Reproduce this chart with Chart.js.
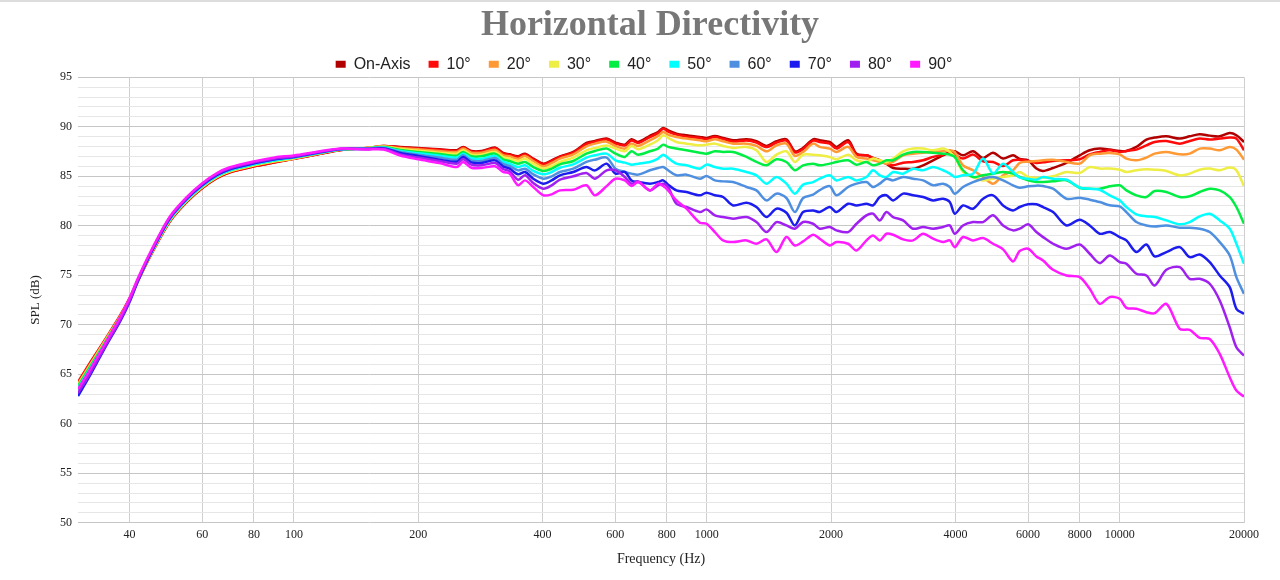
<!DOCTYPE html>
<html>
<head>
<meta charset="utf-8">
<script src="https://cdn.jsdelivr.net/npm/chart.js@4.4.1/dist/chart.umd.min.js"></script>
<style>
  html, body { margin: 0; padding: 0; background: #ffffff; }
  #wrap { position: relative; width: 1280px; height: 580px; }
  #topline { position: absolute; left: 0; top: 0; width: 1280px; height: 2px; background: #dddddd; }
  canvas { display: block; }
</style>
</head>
<body>
<div id="wrap">
  <canvas id="c" width="1280" height="580"></canvas>
  <div id="topline"></div>
</div>
<script>
// ---------------- DATA ----------------
const freqs = [30,32,35,38,40,42,45,50,55,60,65,70,80,90,100,115,130,150,165,
181,200,225,248,257,269,285,307,321,333,349,363,380,402,421,441,475,511,536,572,
601,633,657,682,728,762,784,806,844,893,962,998,1046,1095,1158,1248,1319,1395,1475,1559,1634,1711,1809,
1877,1985,2061,2199,2304,2436,2527,2624,2723,2826,2988,3160,3341,3532,3735,3877,3986,4174,4414,4667,4934,5218,5517,
5726,6000,6284,6522,6895,7430,8000,8460,8945,9458,10000,10380,10975,11604,12152,12972,13975,14776,15624,16520,17467,18469,19169,20000];

const seriesNames = ['On-Axis','10°','20°','30°','40°','50°','60°','70°','80°','90°'];
const seriesColors = ['#b00000','#ff0a0a','#ff9933','#eeee44','#00ee44','#00ffff','#4f8fe0','#1c1cee','#a020f0','#ff1aff'];

const onAxis = [64.1,66.0,68.5,70.9,72.6,74.5,77.0,80.4,82.4,83.8,84.8,85.4,86.0,86.4,86.75,87.25,87.65,87.85,88.05,
87.95,87.85,87.72,87.62,87.95,87.55,87.55,87.89,87.35,87.21,87.01,87.28,86.77,86.27,86.61,87.01,87.45,88.36,88.56,88.80,
88.39,88.19,88.73,88.46,89.07,89.47,89.88,89.64,89.30,89.13,88.97,88.87,89.07,88.87,88.63,88.73,88.53,88.06,88.53,88.73,87.52,87.86,88.73,
88.63,88.46,87.96,88.63,87.28,87.11,86.84,86.61,86.27,85.83,85.76,85.76,86.10,86.61,87.11,87.38,87.52,87.11,87.52,86.84,87.38,86.78,87.11,
86.74,86.61,85.77,85.53,85.83,86.34,87.11,87.62,87.79,87.69,87.55,87.55,87.96,88.70,88.90,89.03,88.80,89.03,89.24,89.10,89.03,89.37,89.14,88.46];

const deg10 = [64.2,66.1,68.6,71.0,72.7,74.6,77.1,80.4,82.4,83.8,84.8,85.4,86.0,86.4,86.75,87.25,87.65,87.85,88.05,
87.9,87.8,87.68,87.55,87.9,87.5,87.48,87.82,87.3,87.15,86.95,87.2,86.7,86.2,86.55,86.95,87.38,88.25,88.48,88.7,
88.3,88.1,88.6,88.35,88.95,89.35,89.8,89.5,89.2,89.0,88.85,88.75,88.95,88.75,88.5,88.6,88.4,87.95,88.4,88.6,87.4,87.75,88.6,
88.46,88.29,87.79,88.46,87.18,87.11,86.84,86.61,86.27,86.10,86.37,86.44,86.61,86.95,87.18,87.38,87.18,86.78,87.18,86.51,86.44,86.03,86.61,
86.67,86.54,86.34,86.40,86.54,86.61,86.71,87.21,87.45,87.62,87.45,87.55,87.69,88.12,88.46,88.56,88.29,88.56,88.80,88.70,88.80,88.90,88.80,87.62];

const deg20 = [64.0,65.9,68.5,70.9,72.6,74.5,77.1,80.5,82.5,83.9,84.9,85.5,86.1,86.5,86.8,87.3,87.7,87.85,88.0,
87.85,87.72,87.55,87.45,87.79,87.38,87.38,87.68,87.14,87.01,86.77,87.04,86.54,86.0,86.34,86.77,87.21,88.02,88.29,88.49,
88.06,87.79,88.29,88.06,88.63,89.07,89.47,89.20,88.97,88.80,88.63,88.53,88.73,88.53,88.29,88.29,88.06,87.52,88.12,88.29,87.05,87.45,88.29,
87.96,87.79,87.45,87.96,86.95,86.78,86.61,86.44,86.27,86.44,87.11,87.28,87.38,87.45,87.52,87.62,87.45,86.10,85.60,84.92,84.25,85.09,85.60,
86.34,86.47,86.54,86.61,86.67,86.44,86.27,87.11,87.28,87.35,87.21,86.78,86.61,86.88,87.28,87.45,87.21,87.28,87.79,87.79,87.62,87.96,87.69,86.67];

const deg30 = [63.9,65.8,68.4,70.8,72.6,74.6,77.1,80.5,82.5,83.9,84.9,85.5,86.1,86.5,86.8,87.3,87.7,87.85,88.0,
87.75,87.58,87.38,87.28,87.62,87.18,87.18,87.45,86.94,86.77,86.54,86.77,86.27,85.76,86.03,86.44,86.88,87.62,87.85,88.09,
87.79,87.52,88.06,87.72,88.19,88.63,89.13,88.87,88.46,88.29,88.12,88.19,88.29,88.06,87.86,87.96,87.62,86.44,87.18,87.52,86.44,87.18,87.18,
87.11,86.95,86.71,87.18,86.61,86.44,86.78,86.61,86.44,86.78,87.52,87.79,87.79,87.62,87.79,87.45,86.95,85.43,84.92,84.58,84.75,84.92,85.09,
85.43,84.92,84.85,84.85,84.99,85.43,85.33,85.93,85.77,85.77,85.66,85.43,85.60,85.70,85.66,85.53,85.09,85.26,85.66,85.77,85.60,85.87,85.60,83.98];

const deg40 = [63.8,65.7,68.3,70.8,72.6,74.6,77.2,80.6,82.6,84.0,85.0,85.6,86.2,86.6,86.9,87.35,87.7,87.8,87.95,
87.65,87.45,87.25,87.08,87.45,87.01,87.01,87.28,86.71,86.54,86.27,86.44,85.93,85.53,85.76,86.2,86.54,87.28,87.55,87.79,
87.28,86.95,87.52,87.18,87.52,87.79,88.19,87.96,87.79,87.62,87.38,87.28,87.52,87.45,87.45,86.95,86.44,86.10,86.71,86.44,85.60,86.10,86.27,
86.10,86.27,86.44,86.61,86.17,86.44,86.10,86.27,86.61,86.61,87.18,87.45,87.45,87.38,87.28,87.18,86.95,85.60,84.92,85.09,85.26,85.43,85.26,
84.92,84.59,84.42,84.42,84.48,84.59,83.84,83.74,83.74,83.98,84.08,83.57,83.07,82.90,83.51,83.41,82.90,82.97,83.41,83.74,83.57,82.90,81.89,80.20];

const deg50 = [63.6,65.5,68.2,70.7,72.5,74.6,77.2,80.6,82.6,84.0,85.0,85.6,86.2,86.6,86.9,87.35,87.7,87.8,87.9,
87.55,87.31,87.08,86.88,87.28,86.81,86.77,87.04,86.47,86.27,85.93,86.10,85.53,85.19,85.43,85.86,86.20,86.88,87.11,87.28,
86.61,86.37,86.17,86.27,86.44,86.78,87.18,86.84,86.27,86.10,85.76,86.17,85.93,85.76,85.76,85.43,85.09,84.25,84.92,84.25,83.24,84.15,84.41,
84.75,85.09,84.58,84.92,84.58,84.92,85.60,85.09,84.92,85.43,85.26,85.76,85.60,85.93,85.60,85.26,84.92,85.09,85.26,86.78,85.26,86.27,85.43,
84.85,84.75,84.65,84.92,84.75,84.65,83.84,83.74,83.64,83.07,82.56,81.89,81.15,80.95,80.88,80.54,80.14,80.37,80.95,81.21,80.54,79.70,78.18,76.16];

const deg60 = [63.4,65.3,68.1,70.6,72.5,74.6,77.2,80.7,82.7,84.1,85.1,85.7,86.3,86.7,86.95,87.4,87.75,87.8,87.85,
87.45,87.18,86.88,86.67,87.11,86.6,86.54,86.84,86.24,86.03,85.59,85.76,85.19,84.75,84.99,85.43,85.76,86.44,86.67,86.88,
85.76,85.43,85.26,85.16,85.60,85.83,85.93,85.60,85.09,85.16,84.75,85.02,84.58,84.48,84.41,83.91,83.57,82.56,83.24,82.80,81.38,82.80,83.13,
83.6,84.0,83.07,83.91,84.25,84.41,83.91,84.25,84.75,84.58,84.92,84.75,84.58,84.08,84.25,83.91,83.24,83.91,84.41,84.75,84.92,84.58,84.08,
83.84,83.98,84.05,84.01,83.74,82.73,82.83,82.63,82.39,82.06,81.95,81.38,80.37,80.03,79.93,80.03,79.80,79.80,79.70,79.36,78.35,77.00,74.81,73.12];

const deg70 = [62.8,64.8,67.8,70.4,72.3,74.5,77.2,80.7,82.7,84.1,85.1,85.7,86.3,86.7,86.95,87.4,87.75,87.75,87.8,
87.35,87.04,86.67,86.47,86.94,86.40,86.34,86.60,86.0,85.76,85.19,85.43,84.75,84.25,84.58,85.09,85.43,85.93,85.59,86.27,
85.26,85.43,84.58,84.41,84.25,84.41,84.58,84.15,83.57,83.40,83.07,83.34,83.07,82.90,82.05,82.33,81.89,80.88,81.72,81.31,80.03,81.38,81.55,
81.38,81.89,81.38,82.22,82.05,82.22,82.05,82.90,83.07,82.56,83.24,83.07,82.90,82.56,82.73,82.39,81.21,82.05,81.72,82.73,83.07,82.05,81.55,
81.89,82.16,82.16,81.89,81.38,80.03,80.61,80.03,79.19,79.36,78.85,78.52,77.34,78.11,76.90,77.34,77.84,76.83,77.10,76.33,74.98,73.80,71.61,71.10];

const deg80 = [63.1,65.0,67.9,70.5,72.4,74.6,77.3,80.8,82.8,84.2,85.2,85.8,86.4,86.8,87.0,87.45,87.75,87.75,87.75,
87.21,86.88,86.54,86.27,86.71,86.17,86.10,86.34,85.73,85.49,84.65,85.09,84.31,83.74,84.08,84.65,84.99,85.33,84.75,85.59,
85.60,84.92,84.25,84.48,83.57,84.08,84.25,83.91,82.22,81.89,81.38,81.65,81.05,80.88,80.71,80.88,80.37,79.36,80.37,80.03,79.70,80.37,80.2,
79.70,79.87,79.53,79.36,80.20,81.05,81.22,80.54,81.38,80.88,80.54,79.70,79.87,79.70,79.87,80.03,79.19,80.03,80.37,80.37,81.05,80.03,79.53,
79.70,80.14,79.36,78.85,78.18,77.67,78.11,77.17,76.23,77.00,76.33,76.16,75.15,74.98,73.97,75.55,75.82,74.64,74.64,74.14,72.45,69.75,67.73,66.89];

const deg90 = [63.5,65.4,68.2,70.8,72.7,74.8,77.4,80.9,82.9,84.3,85.3,85.9,86.5,86.9,87.1,87.5,87.8,87.7,87.7,
87.08,86.71,86.34,85.93,86.44,85.86,85.83,86.0,85.43,85.26,84.1,84.58,83.91,83.07,83.17,83.57,83.64,84.08,83.07,84.0,
84.75,84.58,84.01,84.41,83.57,84.25,84.01,83.57,82.56,81.72,80.30,80.20,79.36,78.52,78.35,78.52,78.18,78.62,77.34,78.86,78.01,78.42,79.09,
78.69,78.01,78.35,78.18,77.5,78.52,79.02,78.52,79.19,79.09,78.62,78.52,79.19,78.69,78.35,78.52,77.84,78.86,78.52,78.76,78.18,77.61,76.40,
77.44,77.67,76.90,76.49,75.55,74.98,74.81,73.63,72.11,72.79,72.62,71.71,71.61,71.27,71.17,72.11,69.59,69.48,68.67,68.57,67.06,64.70,63.35,62.74];

const xTicks = [40,60,80,100,200,400,600,800,1000,2000,4000,6000,8000,10000,20000];
const yMin = 50, yMax = 95;

// ---------------- CHART ----------------
const allSeries = [onAxis, deg10, deg20, deg30, deg40, deg50, deg60, deg70, deg80, deg90];
const datasets = allSeries.map((vals, i) => ({
  label: seriesNames[i],
  data: freqs.map((f, k) => ({ x: f, y: vals[k] })),
  borderColor: seriesColors[i],
  backgroundColor: seriesColors[i],
  borderWidth: 2.5,
  pointRadius: 0,
  pointHoverRadius: 0,
  tension: 0.3,
  fill: false,
  order: allSeries.length - 1 - i
}));

const serif = "'Liberation Serif', 'Times New Roman', serif";
const sans = "'Liberation Sans', Arial, sans-serif";

// trims the empty band under the legend's single row and nudges it slightly left
const legendTrim = {
  id: 'legendTrim',
  beforeLayout(chart) {
    const lg = chart.legend;
    if (lg && !lg._trimmed) {
      const origFit = lg.fit;
      lg.fit = function () { origFit.call(this); this.height -= 5; };
      lg._trimmed = true;
    }
  },
  afterLayout(chart) {
    const lg = chart.legend;
    if (lg) { lg.left -= 6; lg.right -= 6; }
  }
};

new Chart(document.getElementById('c'), {
  type: 'line',
  data: { datasets },
  plugins: [legendTrim],
  options: {
    responsive: false,
    animation: false,
    devicePixelRatio: 1,
    layout: { padding: { top: 4, left: 20, right: 0, bottom: 8 } },
    plugins: {
      title: {
        display: true,
        text: 'Horizontal Directivity',
        color: '#777777',
        font: { family: serif, size: 36, weight: 'bold' },
        padding: { top: 0, bottom: -9 }
      },
      legend: {
        display: true,
        position: 'top',
        labels: {
          boxWidth: 10,
          boxHeight: 7,
          padding: 18,
          color: '#222222',
          font: { family: sans, size: 16 },
          sort: (a, b) => a.datasetIndex - b.datasetIndex,
          generateLabels: (chart) => {
            const items = Chart.defaults.plugins.legend.labels.generateLabels(chart);
            items.forEach(it => { it.lineWidth = 0; it.fillStyle = it.strokeStyle; });
            return items;
          }
        }
      },
      tooltip: { enabled: false }
    },
    scales: {
      x: {
        type: 'logarithmic',
        min: 30,
        max: 20000,
        afterBuildTicks: (scale) => { scale.ticks = xTicks.map(v => ({ value: v })); },
        afterFit: (scale) => { scale.paddingRight = 36; },
        border: { display: false },
        grid: { color: '#cfcfcf', lineWidth: 1, drawTicks: false },
        ticks: {
          autoSkip: false, maxRotation: 0, padding: 5,
          color: '#222222',
          font: { family: serif, size: 12 },
          callback: (v) => String(v)
        },
        title: {
          display: true, text: 'Frequency (Hz)', color: '#222222',
          font: { family: serif, size: 14 },
          padding: { top: 4, bottom: 4 }
        }
      },
      y: {
        type: 'linear',
        min: yMin,
        max: yMax,
        afterFit: (scale) => { scale.width = 58; },
        border: { display: false },
        grid: {
          color: (ctx) => (ctx.tick && ctx.tick.value % 5 === 0) ? '#c6c6c6' : '#e6e6e6',
          lineWidth: 1,
          drawTicks: false
        },
        ticks: {
          stepSize: 1, autoSkip: false, padding: 6,
          color: '#222222',
          font: { family: serif, size: 12 },
          callback: (v) => (v % 5 === 0 ? String(v) : '')
        },
        title: {
          display: true, text: 'SPL (dB)', color: '#222222',
          font: { family: serif, size: 13 },
          padding: { top: 8, bottom: 0 }
        }
      }
    }
  }
});
</script>
</body>
</html>
